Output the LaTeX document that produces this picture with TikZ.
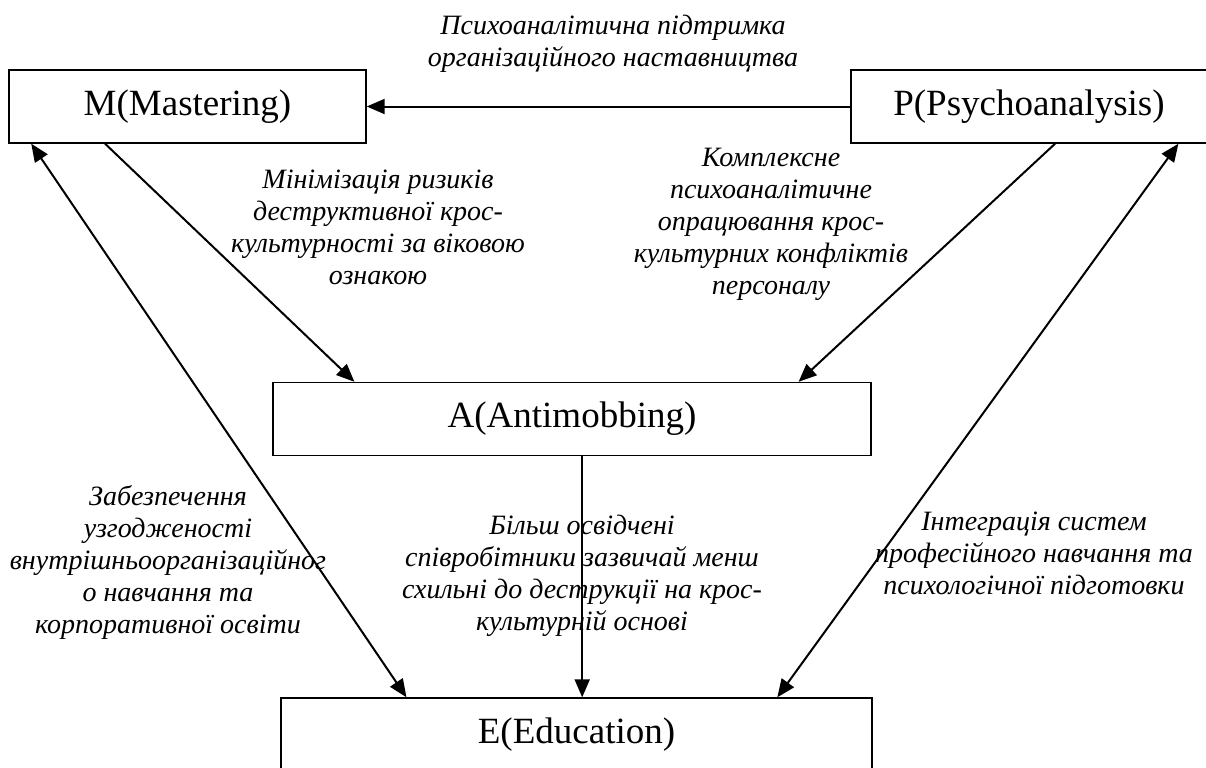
\documentclass[tikz,border=0pt]{standalone}
\usepackage{fontspec}
\setmainfont{Liberation Serif}
\usetikzlibrary{calc}
\usetikzlibrary{arrows.meta}

\begin{document}
\begin{tikzpicture}[x=0.5pt,y=-0.5pt]
\tikzset{blok/.style={draw,rectangle,line width=0.7pt,inner sep=0pt,minimum height=36.5pt,font=\fontsize{18.5}{22}\selectfont},
opis/.style={align=center,inner sep=0pt,font=\fontsize{14}{16}\selectfont\itshape},
strl/.style={line width=1pt,-{Triangle[length=9pt,width=7.5pt]}},
dvstrl/.style={line width=1pt,{Triangle[length=9pt,width=7.5pt]}-{Triangle[length=9pt,width=7.5pt]}}}
\useasboundingbox (0,0) rectangle (1206,767);

\node (M) at (187.5,106.5) [blok,minimum width=178.5pt] {M(Mastering)};
\node (P) at (1029,106.5) [blok,minimum width=178pt] {P(Psychoanalysis)};
\node (A) at (572,419) [blok,minimum width=299pt] {A(Antimobbing)};
\node (E) at (576.5,734.5) [blok,minimum width=295.5pt] {E(Education)};

\node (lPM) at (613,44) [opis] {Психоаналітична підтримка\\ організаційного наставництва};
\node (lMA) at (378,227) [opis] {Мінімізація ризиків\\ деструктивної крос-\\ культурності за віковою\\ ознакою};
\node (lPA) at (771,224) [opis] {Комплексне\\ психоаналітичне\\ опрацювання крос-\\ культурних конфліктів\\ персоналу};
\node (lME) at (168,562) [opis] {Забезпечення\\ узгодженості\\ внутрішньоорганізаційног\\ о навчання та\\ корпоративної освіти};
\node (lAE) at (582,576) [opis] {Більш освідчені\\ співробітники зазвичай менш\\ схильні до деструкції на крос-\\ культурній основі};
\node (lPE) at (1034,553) [opis] {Інтеграція систем\\ професійного навчання та\\ психологічної підготовки};

\coordinate (ae) at ($(A.south west)!0.517!(A.south east)$);

\path
(P.west) edge [strl] (M.east)
($(M.south west)!0.27!(M.south east)$) edge [strl] ($(A.north west)!0.137!(A.north east)$)
($(P.south west)!0.573!(P.south east)$) edge [strl] ($(A.north west)!0.878!(A.north east)$)
(ae) edge [strl] (ae |- E.north)
($(M.south west)!0.064!(M.south east)$) edge [dvstrl] ($(E.north west)!0.213!(E.north east)$)
($(P.south west)!0.918!(P.south east)$) edge [dvstrl] ($(E.north west)!0.839!(E.north east)$);
\end{tikzpicture}
\end{document}
